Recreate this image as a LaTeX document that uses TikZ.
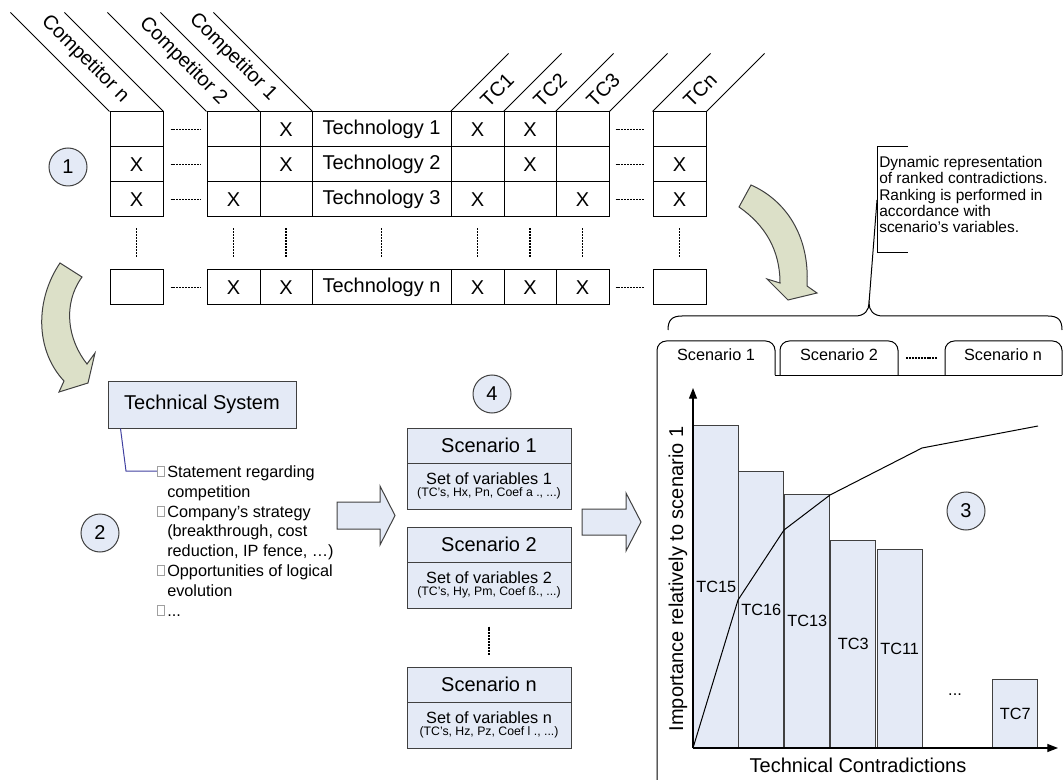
\documentclass[tikz,border=0pt]{standalone}
\usepackage{fontspec}
\setmainfont{Liberation Sans}
\usetikzlibrary{arrows.meta}
\definecolor{boxfill}{RGB}{228,234,246}
\definecolor{arrowfill}{RGB}{220,224,200}
\definecolor{edgegray}{RGB}{64,64,64}
\definecolor{connblue}{RGB}{64,64,160}
\definecolor{bulletgray}{RGB}{160,160,160}
\newcommand\mcellat[5]{\node[mcell,minimum width=#4] (#1) at (#2,#3) {#5};}
\begin{document}
\begin{tikzpicture}[x=0.75pt,y=-0.75pt,
 f15/.style={font=\fontsize{15}{18}\selectfont},
 f12/.style={font=\fontsize{12.2}{14.8}\selectfont},
 f9/.style={font=\fontsize{9.2}{11}\selectfont},
 mcell/.style={draw=black,fill=white,line width=0.75pt,minimum height=26.25pt,inner sep=0pt,f15},
 dashmark/.style={line width=1.4pt,dash pattern=on 1.5pt off 0.7pt},
 thinline/.style={line width=0.75pt},
 numcirc/.style={circle,draw=edgegray,fill=boxfill,line width=0.75pt,minimum size=28.5pt,inner sep=0pt,f15},
 bbox/.style={draw=edgegray,fill=boxfill,line width=0.75pt,inner sep=0pt},
 blockarrow/.style={draw=edgegray,fill=boxfill,line width=0.75pt,line join=miter},
 curvedarrow/.style={draw=edgegray,fill=arrowfill,line width=0.75pt,line join=miter},
 barbox/.style={draw=edgegray,fill=boxfill,line width=0.75pt,inner sep=0pt,minimum width=34.1pt,f12,anchor=south west},
 bsq/.style={draw=bulletgray,fill=white,line width=0.4pt,minimum width=5pt,minimum height=7.5pt,inner sep=0pt},
 btext/.style={f12,inner sep=0pt,anchor=base west},
 tabline/.style={draw=black,line width=0.75pt,rounded corners=7pt},
]
\useasboundingbox (0,0) rectangle (1063,780);

% ---------------- matrix ----------------
\mcellat{cn1}{136.5}{129.5}{39.75pt}{}
\mcellat{ctwo1}{233.5}{129.5}{39.75pt}{}
\mcellat{cone1}{286}{129.5}{39pt}{X}
\mcellat{tech1}{381.5}{129.5}{104.25pt}{Technology 1}
\mcellat{tca1}{477.5}{129.5}{39.75pt}{X}
\mcellat{tcb1}{530}{129.5}{39pt}{X}
\mcellat{tcc1}{582.5}{129.5}{39.75pt}{}
\mcellat{tcn1}{679.5}{129.5}{39.75pt}{}

\mcellat{cn2}{136.5}{164.5}{39.75pt}{X}
\mcellat{ctwo2}{233.5}{164.5}{39.75pt}{}
\mcellat{cone2}{286}{164.5}{39pt}{X}
\mcellat{tech2}{381.5}{164.5}{104.25pt}{Technology 2}
\mcellat{tca2}{477.5}{164.5}{39.75pt}{}
\mcellat{tcb2}{530}{164.5}{39pt}{X}
\mcellat{tcc2}{582.5}{164.5}{39.75pt}{}
\mcellat{tcn2}{679.5}{164.5}{39.75pt}{X}

\mcellat{cn3}{136.5}{199.5}{39.75pt}{X}
\mcellat{ctwo3}{233.5}{199.5}{39.75pt}{X}
\mcellat{cone3}{286}{199.5}{39pt}{}
\mcellat{tech3}{381.5}{199.5}{104.25pt}{Technology 3}
\mcellat{tca3}{477.5}{199.5}{39.75pt}{X}
\mcellat{tcb3}{530}{199.5}{39pt}{}
\mcellat{tcc3}{582.5}{199.5}{39.75pt}{X}
\mcellat{tcn3}{679.5}{199.5}{39.75pt}{X}

\mcellat{cnz}{136.5}{287.5}{39.75pt}{}
\mcellat{ctwoz}{233.5}{287.5}{39.75pt}{X}
\mcellat{conez}{286}{287.5}{39pt}{X}
\mcellat{techz}{381.5}{287.5}{104.25pt}{Technology n}
\mcellat{tcaz}{477.5}{287.5}{39.75pt}{X}
\mcellat{tcbz}{530}{287.5}{39pt}{X}
\mcellat{tccz}{582.5}{287.5}{39.75pt}{X}
\mcellat{tcnz}{679.5}{287.5}{39.75pt}{}

\foreach \rid in {1,2,3,z}{
  \draw[dashmark,shorten <=5.25pt,shorten >=4.5pt] (cn\rid.east) -- (ctwo\rid.west);
  \draw[dashmark,shorten <=4.5pt,shorten >=6pt] (tcc\rid.east) -- (tcn\rid.west);
}
\foreach \colname in {cn,ctwo,cone,tech,tca,tcb,tcc,tcn}
  \draw[dashmark,shorten <=8.25pt,shorten >=9pt] (\colname 3.south) -- (\colname z.north);

% header lines
\foreach \nn in {cn1.north west,cn1.north east,ctwo1.north west,cone1.north west,cone1.north east}
  \draw[thinline] (\nn) -- ++(-99,-99);
\foreach \nn in {tca1.north west,tcb1.north west,tcc1.north west,tcc1.north east,tcn1.north west,tcn1.north east}
  \draw[thinline] (\nn) -- ++(58,-58);

\node[rotate=-45,f15] (lcn) at (85,59) {Competitor n};
\node[rotate=-45,f15] (lctwo) at (183,61) {Competitor 2};
\node[rotate=-45,f15] (lcone) at (233,57) {Competitor 1};
\node[rotate=45,f15] (ltca) at (497,90) {TC1};
\node[rotate=45,f15] (ltcb) at (550,90) {TC2};
\node[rotate=45,f15] (ltcc) at (603,90) {TC3};
\node[rotate=45,f15] (ltcn) at (700,90) {TCn};

\node[numcirc] (nA) at (68,167) {1};

% ---------------- curved arrows ----------------
\draw[curvedarrow] (60,263) .. controls (35,300) and (35,350) .. (64,381) -- (59,392) -- (88,383) -- (95,353) -- (87,364) .. controls (68,340) and (62,305) .. (82,277) -- cycle;
\draw[curvedarrow] (739,207) -- (751,185) .. controls (785,200) and (810,235) .. (807,286) -- (817,293) -- (788,300) -- (767,279) -- (780,283) .. controls (780,250) and (765,225) .. (739,207) -- cycle;

% ---------------- technical system ----------------
\node[bbox,minimum width=141pt,minimum height=35.25pt,f15] (ts) at (202,404.5) {Technical System};
\node[bsq] (qa) at (160.5,471) {};
\node[bsq] (qb) at (160.5,511) {};
\node[bsq] (qc) at (160.5,570) {};
\node[bsq] (qd) at (160.5,610) {};
\coordinate (tsfoot) at ([xshift=9.75pt]ts.south west);
\coordinate (tsbend) at (126,471);
\draw[connblue,line width=0.75pt] (tsfoot) -- (tsbend) -- (qa.west);
\node[btext] (la) at (167,477) {Statement regarding};
\node[btext] (lb) at (167,497) {competition};
\node[btext] (lc) at (167,517) {Company’s strategy};
\node[btext] (ld) at (167,536.5) {(breakthrough, cost};
\node[btext] (le) at (167,556) {reduction, IP fence, …)};
\node[btext] (lf) at (167,576) {Opportunities of logical};
\node[btext] (lg) at (167,596) {evolution};
\node[btext] (lh) at (167,616) {...};
\node[numcirc] (nB) at (100,533) {2};

% block arrow 2 -> 4
\draw[blockarrow] (337,502) -- (380,502) -- (380,486) -- (395,515.5) -- (380,545) -- (380,529) -- (337,529) -- cycle;

% ---------------- scenarios ----------------
\node[numcirc] (nD) at (492,394) {4};
\node[bbox,minimum width=123pt,minimum height=26.25pt,f15] (sat) at (489,445.5) {Scenario 1};
\node[bbox,minimum width=123pt,minimum height=34.5pt] (sab) at (489,486) {};
\node[f12,inner sep=0pt] (sav) at (489,479) {Set of variables 1};
\node[f9,inner sep=0pt] (sap) at (489,493) {(TC’s, Hx, Pn, Coef a ., ...)};

\node[bbox,minimum width=123pt,minimum height=26.25pt,f15] (sbt) at (489,544.5) {Scenario 2};
\node[bbox,minimum width=123pt,minimum height=34.5pt] (sbb) at (489,585) {};
\node[f12,inner sep=0pt] (sbv) at (489,578) {Set of variables 2};
\node[f9,inner sep=0pt] (sbp) at (489,592) {(TC’s, Hy, Pm, Coef ß., ...)};

\node[bbox,minimum width=123pt,minimum height=26.25pt,f15] (snt) at (489,684.5) {Scenario n};
\node[bbox,minimum width=123pt,minimum height=34.5pt] (snb) at (489,725) {};
\node[f12,inner sep=0pt] (snv) at (489,718) {Set of variables n};
\node[f9,inner sep=0pt] (snp) at (489,732) {(TC’s, Hz, Pz, Coef l ., ...)};

\draw[dashmark,shorten <=13.5pt,shorten >=8.25pt] (sbb.south) -- (snt.north);

% block arrow 4 -> 3
\draw[blockarrow] (582,509) -- (626,509) -- (626,493) -- (641,522) -- (626,551) -- (626,535) -- (582,535) -- cycle;

% ---------------- callout ----------------
\coordinate (cusp) at (869,303);
\coordinate (brmid) at (877,200);
\draw[thinline] (668,330) .. controls (668,320) and (672,316) .. (682,316) -- (855,316) .. controls (865,316) and (869,310) .. (cusp) .. controls (869,310) and (873,316) .. (883,316) -- (1048,316) .. controls (1058,316) and (1062,320) .. (1062,330);
\draw[thinline] (cusp) -- (brmid);
\draw[thinline] (908,147) -- (877,147) -- (877,253) -- (908,253);
\node[anchor=north west,align=left,inner sep=0pt,font=\fontsize{11.6}{12.2}\selectfont] (dyn) at (879,156) {Dynamic representation\\of ranked contradictions.\\Ranking is performed in\\accordance with\\scenario’s variables.};

% ---------------- tabs ----------------
\draw[tabline] (657,780) -- (657,341) -- (775,341) -- (775,375);
\draw[tabline] (780,375) -- (780,341) -- (898,341) -- (898,375);
\draw[tabline] (945,375) -- (945,341) -- (1062,341) -- (1062,375);
\draw[thinline] (775,375) -- (1062,375);
\node[f12] (tabA) at (716,355) {Scenario 1};
\node[f12] (tabB) at (839,355) {Scenario 2};
\node[f12] (tabN) at (1003,355) {Scenario n};
\draw[dashmark] (906,358) -- (937,358);

% ---------------- chart ----------------
\node[barbox,minimum height=241.5pt] (bfifteen) at (693,748) {TC15};
\node[barbox,minimum height=207pt] (bsixteen) at (738,748) {TC16};
\node[barbox,minimum height=189.75pt] (bthirteen) at (784,748) {TC13};
\node[barbox,minimum height=155.25pt] (bthree) at (830,748) {TC3};
\node[barbox,minimum height=148.5pt] (beleven) at (876.5,748) {TC11};
\node[barbox,minimum height=51pt] (bseven) at (992,748) {TC7};
\node[f12] (dots) at (955,695) {...};
\draw[thinline] (693,748) -- (738,600) -- (784,530) -- (830,495) -- (922,448) -- (1038,426);
\coordinate (origin) at (693,748);
\coordinate (ytip) at (693,388);
\coordinate (xtip) at (1058,748);
\draw[line width=0.9pt,-{Triangle[length=8pt,width=6pt]}] (origin) -- (ytip);
\draw[line width=0.9pt,-{Triangle[length=8pt,width=6pt]}] (origin) -- (xtip);
\node[f15,rotate=90] (ylab) at (678,579) {Importance relatively to scenario 1};
\node[f15] (xlab) at (858,765) {Technical Contradictions};
\node[numcirc] (nC) at (966,511) {3};
\end{tikzpicture}
\end{document}
